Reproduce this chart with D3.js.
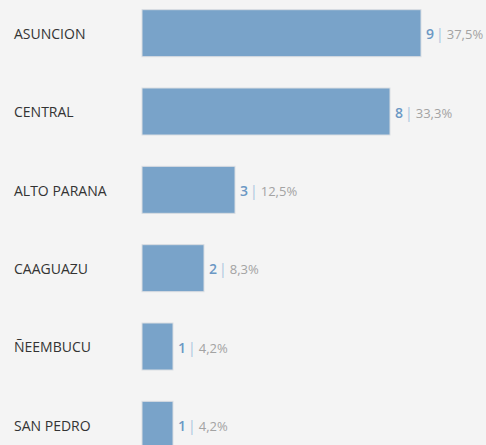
<!DOCTYPE html>
<html>
<head>
<meta charset="utf-8">
<script src="https://cdn.jsdelivr.net/npm/d3@7"></script>
<style>
  html, body { margin: 0; padding: 0; background: #f4f4f4; overflow: hidden; }
  text { font-family: "Open Sans", "Noto Sans", sans-serif; }
</style>
</head>
<body>
<svg id="chart" width="486" height="445"></svg>
<script>
const departments = ["ASUNCION", "CENTRAL", "ALTO PARANA", "CAAGUAZU", "ÑEEMBUCU", "SAN PEDRO"];
const counts = [9, 8, 3, 2, 1, 1];
const shares = ["37,5%", "33,3%", "12,5%", "8,3%", "4,2%", "4,2%"];

const data = departments.map((d, i) => ({ name: d, count: counts[i], share: shares[i] }));

const width = 486, height = 445;
const svg = d3.select("#chart");

svg.append("rect").attr("width", width).attr("height", height).attr("fill", "#f4f4f4");

const xScale = d3.scaleLinear().domain([0, 9]).range([142, 421]);
const yScale = d3.scaleBand()
    .domain(departments)
    .range([-6, 464])
    .paddingInner(0.4)
    .paddingOuter(0.2);

const rows = svg.append("g")
    .selectAll("g")
    .data(data)
    .enter().append("g");

rows.append("rect")
    .attr("x", xScale(0))
    .attr("y", d => yScale(d.name))
    .attr("width", d => xScale(d.count) - xScale(0))
    .attr("height", yScale.bandwidth())
    .attr("fill", "#79a3c9")
    .attr("stroke", "#d9dde2")
    .attr("stroke-width", 1);

rows.append("text")
    .attr("x", 14)
    .attr("y", d => yScale(d.name) + yScale.bandwidth() / 2)
    .attr("dy", "0.42em")
    .attr("font-size", 14)
    .attr("fill", "#333")
    .text(d => d.name);

const lbl = rows.append("text")
    .attr("x", d => xScale(d.count) + 5)
    .attr("y", d => yScale(d.name) + yScale.bandwidth() / 2)
    .attr("dy", "0.38em");

lbl.append("tspan")
    .attr("font-size", 14)
    .attr("font-weight", 600)
    .attr("fill", "#6b98c4")
    .text(d => d.count);
lbl.append("tspan")
    .attr("dx", 2)
    .attr("font-size", 14)
    .attr("fill", "#a9c4de")
    .text("|");
lbl.append("tspan")
    .attr("dx", 3)
    .attr("font-size", 13)
    .attr("fill", "#a3a3a3")
    .text(d => d.share);
</script>
</body>
</html>
